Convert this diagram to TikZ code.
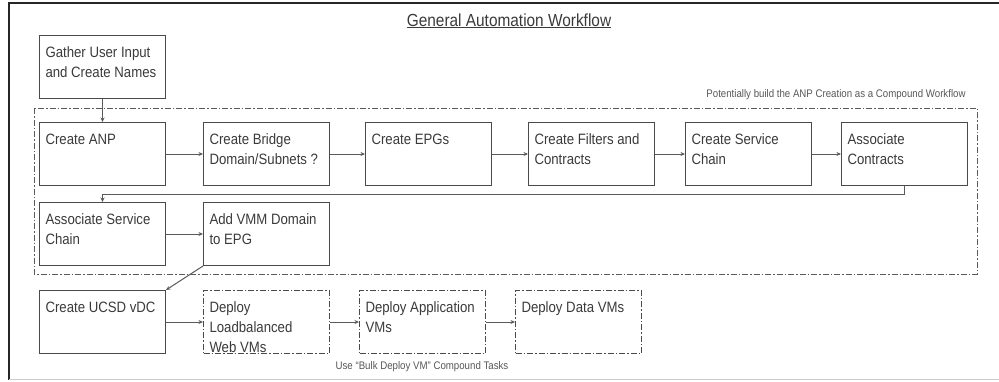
\documentclass[tikz,border=0pt]{standalone}
\usepackage{fontspec}
\setmainfont{Liberation Sans}[FakeStretch=0.88]
\usetikzlibrary{arrows.meta}
\definecolor{boxc}{HTML}{4A4A4A}
\definecolor{txtc}{HTML}{3A3A3A}
\definecolor{linec}{HTML}{5A5A5A}
\newcommand{\bxt}[1]{\parbox[c][55pt][t]{114pt}{\raggedright\fontsize{15}{20}\selectfont\rule{0pt}{18pt}#1}}
\tikzset{
  wbox/.style={draw=boxc, line width=1pt, inner xsep=6pt, inner ysep=4pt, text=txtc, anchor=north west},
  dbox/.style={wbox, dash pattern=on 6pt off 2pt on 1.5pt off 2pt},
  conn/.style={draw=linec, line width=1pt, -{Stealth[length=4.5pt,width=4pt]}},
  smalltxt/.style={text=txtc!85, font=\fontsize{11}{12}\selectfont, inner sep=0pt}
}
\begin{document}
\begin{tikzpicture}[x=1pt,y=-1pt]
\useasboundingbox (0,0) rectangle (999,381);
% frame
\draw[line width=1.8pt, color=black!85] (999,3) -- (9,3) -- (9,380);
\draw[line width=1pt, color=black!20] (9,379.5) -- (999,379.5);
% title
\node[text=txtc, font=\fontsize{17.5}{19}\selectfont, inner sep=0pt, anchor=base] (title) at (509,26) {\underline{General Automation Workflow}};
% compound box
\draw[draw=linec, line width=1pt, dash pattern=on 6pt off 2pt on 1.5pt off 2pt] (34,108) rectangle (977,274);
\node[smalltxt, anchor=base] (lbl1) at (836,97) {Potentially build the ANP Creation as a Compound Workflow};
\node[smalltxt, anchor=base] (lbl2) at (422,369) {Use “Bulk Deploy VM” Compound Tasks};
% boxes
\node[wbox] (gather) at (39,35) {\bxt{Gather User Input\\and Create Names}};
\node[wbox] (anp) at (39,122) {\bxt{Create ANP}};
\node[wbox] (bridge) at (203,122) {\bxt{Create Bridge\\Domain/Subnets ?}};
\node[wbox] (epgs) at (365,122) {\bxt{Create EPGs}};
\node[wbox] (filters) at (528,122) {\bxt{Create Filters and\\Contracts}};
\node[wbox] (svc) at (685,122) {\bxt{Create Service\\Chain}};
\node[wbox] (assoc) at (841,122) {\bxt{Associate\\Contracts}};
\node[wbox] (asc) at (39,202) {\bxt{Associate Service\\Chain}};
\node[wbox] (vmm) at (203,202) {\bxt{Add VMM Domain\\to EPG}};
\node[wbox] (ucsd) at (39,290) {\bxt{Create UCSD vDC}};
\node[dbox] (lb) at (203,290) {\bxt{Deploy\\Loadbalanced\\Web VMs}};
\node[dbox] (app) at (359,290) {\bxt{Deploy Application\\VMs}};
\node[dbox] (data) at (515,290) {\bxt{Deploy Data VMs}};
% connectors
\draw[conn] (gather) -- (anp);
\draw[conn] (anp) -- (bridge);
\draw[conn] (bridge) -- (epgs);
\draw[conn] (epgs) -- (filters);
\draw[conn] (filters) -- (svc);
\draw[conn] (svc) -- (assoc);
\draw[conn] (assoc.south) -- ++(0,8) -| (asc.north);
\draw[conn] (asc) -- (vmm);
\draw[conn] (vmm.south west) -- (ucsd.north east);
\draw[conn] (ucsd) -- (lb);
\draw[conn] (lb) -- (app);
\draw[conn] (app) -- (data);
\end{tikzpicture}
\end{document}
